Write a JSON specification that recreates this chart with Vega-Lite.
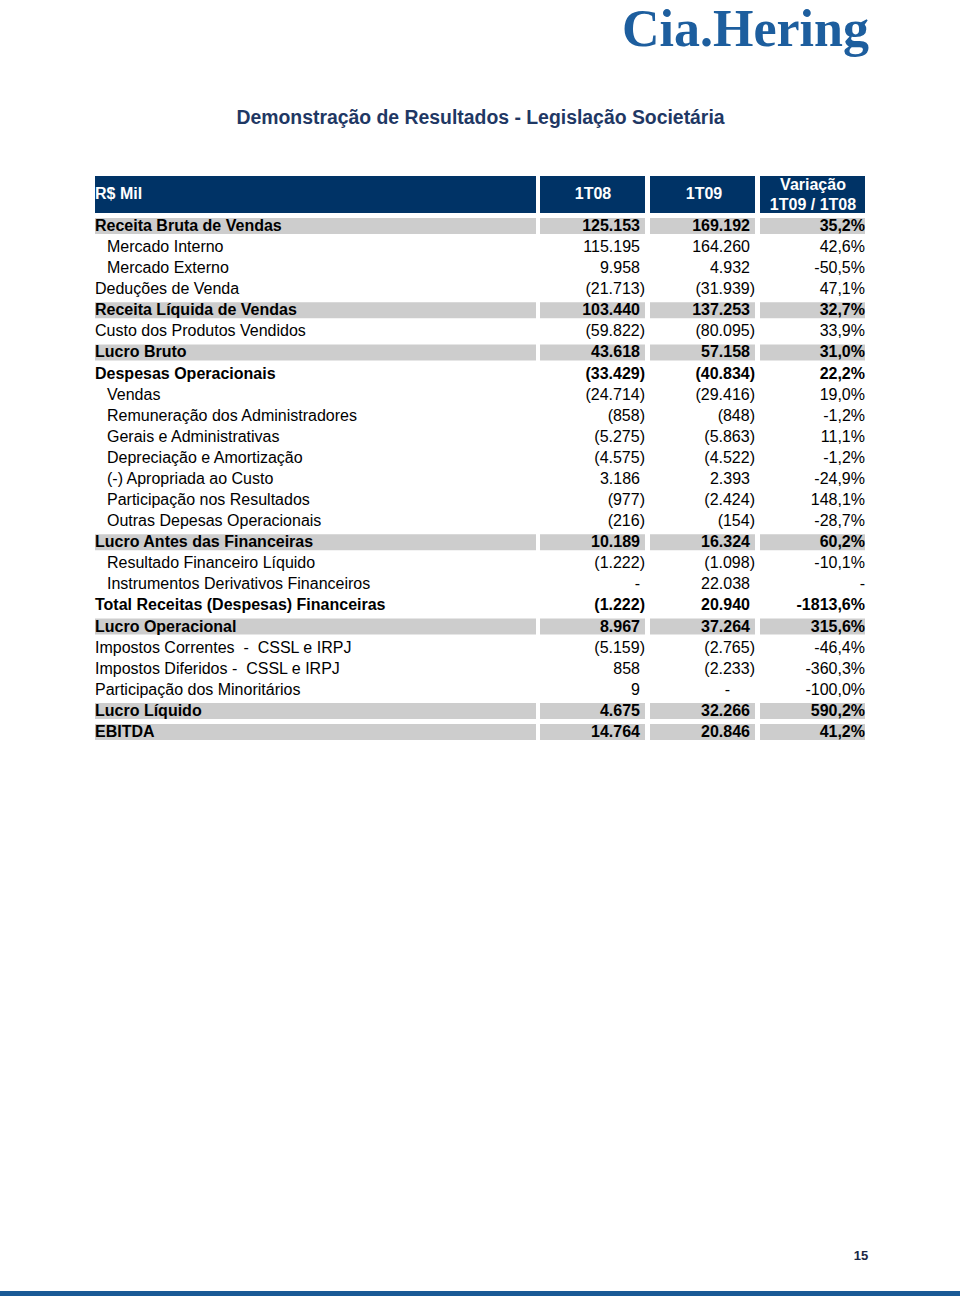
{
  "$schema": "https://vega.github.io/schema/vega-lite/v6.json",
  "autosize": {"type": "none"},
  "width": 960,
  "height": 1296,
  "padding": 0,
  "background": "#ffffff",
  "config": {
    "view": {"stroke": null},
    "axis": {"disable": true},
    "locale": {"number": {"decimal": ",", "thousands": ".", "grouping": [3], "currency": ["R$", ""], "minus": "-"}}
  },
  "data": {"values": [
    {"row": 1, "label": "Receita Bruta de Vendas", "kind": "total", "a": 125153, "b": 169192, "c": 0.352},
    {"row": 2, "label": "Mercado Interno", "kind": "sub", "a": 115195, "b": 164260, "c": 0.426},
    {"row": 3, "label": "Mercado Externo", "kind": "sub", "a": 9958, "b": 4932, "c": -0.505},
    {"row": 4, "label": "Deduções de Venda", "kind": "item", "a": -21713, "b": -31939, "c": 0.471},
    {"row": 5, "label": "Receita Líquida de Vendas", "kind": "total", "a": 103440, "b": 137253, "c": 0.327},
    {"row": 6, "label": "Custo dos Produtos Vendidos", "kind": "item", "a": -59822, "b": -80095, "c": 0.339},
    {"row": 7, "label": "Lucro Bruto", "kind": "total", "a": 43618, "b": 57158, "c": 0.310},
    {"row": 8, "label": "Despesas Operacionais", "kind": "head", "a": -33429, "b": -40834, "c": 0.222},
    {"row": 9, "label": "Vendas", "kind": "sub", "a": -24714, "b": -29416, "c": 0.190},
    {"row": 10, "label": "Remuneração dos Administradores", "kind": "sub", "a": -858, "b": -848, "c": -0.012},
    {"row": 11, "label": "Gerais e Administrativas", "kind": "sub", "a": -5275, "b": -5863, "c": 0.111},
    {"row": 12, "label": "Depreciação e Amortização", "kind": "sub", "a": -4575, "b": -4522, "c": -0.012},
    {"row": 13, "label": "(-) Apropriada ao Custo", "kind": "sub", "a": 3186, "b": 2393, "c": -0.249},
    {"row": 14, "label": "Participação nos Resultados", "kind": "sub", "a": -977, "b": -2424, "c": 1.481},
    {"row": 15, "label": "Outras Depesas Operacionais", "kind": "sub", "a": -216, "b": -154, "c": -0.287},
    {"row": 16, "label": "Lucro Antes das Financeiras", "kind": "total", "a": 10189, "b": 16324, "c": 0.602},
    {"row": 17, "label": "Resultado Financeiro Líquido", "kind": "sub", "a": -1222, "b": -1098, "c": -0.101},
    {"row": 18, "label": "Instrumentos Derivativos Financeiros", "kind": "sub", "a": null, "b": 22038, "c": null},
    {"row": 19, "label": "Total Receitas (Despesas) Financeiras", "kind": "head", "a": -1222, "b": 20940, "c": -18.136},
    {"row": 20, "label": "Lucro Operacional", "kind": "total", "a": 8967, "b": 37264, "c": 3.156},
    {"row": 21, "label": "Impostos Correntes \u00a0-\u00a0 CSSL e IRPJ", "kind": "item", "a": -5159, "b": -2765, "c": -0.464},
    {"row": 22, "label": "Impostos Diferidos -\u00a0 CSSL e IRPJ", "kind": "item", "a": 858, "b": -2233, "c": -3.603},
    {"row": 23, "label": "Participação dos Minoritários", "kind": "item", "a": 9, "b": null, "c": -1.0},
    {"row": 24, "label": "Lucro Líquido", "kind": "total", "a": 4675, "b": 32266, "c": 5.902},
    {"row": 25, "label": "EBITDA", "kind": "total", "a": 14764, "b": 20846, "c": 0.412}
  ]},
  "layer": [
    {"data": {"values": [{}]}, "mark": {"type": "rule", "strokeWidth": 37, "color": "#003366"},
     "encoding": {"x": {"datum": 95, "type": "quantitative", "scale": {"domain": [0, 960], "nice": false, "zero": false}}, "x2": {"datum": 536},
                  "y": {"datum": -0.494, "type": "quantitative", "scale": {"domain": [-9.7195, 51.7515], "reverse": true, "nice": false, "zero": false}}}},
    {"data": {"values": [{}]}, "mark": {"type": "rule", "strokeWidth": 37, "color": "#003366"},
     "encoding": {"x": {"datum": 540, "type": "quantitative", "scale": {"domain": [0, 960], "nice": false, "zero": false}}, "x2": {"datum": 645},
                  "y": {"datum": -0.494, "type": "quantitative", "scale": {"domain": [-9.7195, 51.7515], "reverse": true, "nice": false, "zero": false}}}},
    {"data": {"values": [{}]}, "mark": {"type": "rule", "strokeWidth": 37, "color": "#003366"},
     "encoding": {"x": {"datum": 650, "type": "quantitative", "scale": {"domain": [0, 960], "nice": false, "zero": false}}, "x2": {"datum": 755},
                  "y": {"datum": -0.494, "type": "quantitative", "scale": {"domain": [-9.7195, 51.7515], "reverse": true, "nice": false, "zero": false}}}},
    {"data": {"values": [{}]}, "mark": {"type": "rule", "strokeWidth": 37, "color": "#003366"},
     "encoding": {"x": {"datum": 760, "type": "quantitative", "scale": {"domain": [0, 960], "nice": false, "zero": false}}, "x2": {"datum": 865},
                  "y": {"datum": -0.494, "type": "quantitative", "scale": {"domain": [-9.7195, 51.7515], "reverse": true, "nice": false, "zero": false}}}},

    {"transform": [{"filter": "datum.kind === 'total'"}], "mark": {"type": "rule", "strokeWidth": 16, "color": "#cdcdcd"},
     "encoding": {"x": {"datum": 95, "type": "quantitative", "scale": {"domain": [0, 960], "nice": false, "zero": false}}, "x2": {"datum": 536},
                  "y": {"field": "row", "type": "quantitative", "scale": {"domain": [-9.7195, 51.7515], "reverse": true, "nice": false, "zero": false}}}},
    {"transform": [{"filter": "datum.kind === 'total'"}], "mark": {"type": "rule", "strokeWidth": 16, "color": "#cdcdcd"},
     "encoding": {"x": {"datum": 540, "type": "quantitative", "scale": {"domain": [0, 960], "nice": false, "zero": false}}, "x2": {"datum": 645},
                  "y": {"field": "row", "type": "quantitative", "scale": {"domain": [-9.7195, 51.7515], "reverse": true, "nice": false, "zero": false}}}},
    {"transform": [{"filter": "datum.kind === 'total'"}], "mark": {"type": "rule", "strokeWidth": 16, "color": "#cdcdcd"},
     "encoding": {"x": {"datum": 650, "type": "quantitative", "scale": {"domain": [0, 960], "nice": false, "zero": false}}, "x2": {"datum": 755},
                  "y": {"field": "row", "type": "quantitative", "scale": {"domain": [-9.7195, 51.7515], "reverse": true, "nice": false, "zero": false}}}},
    {"transform": [{"filter": "datum.kind === 'total'"}], "mark": {"type": "rule", "strokeWidth": 16, "color": "#cdcdcd"},
     "encoding": {"x": {"datum": 760, "type": "quantitative", "scale": {"domain": [0, 960], "nice": false, "zero": false}}, "x2": {"datum": 865},
                  "y": {"field": "row", "type": "quantitative", "scale": {"domain": [-9.7195, 51.7515], "reverse": true, "nice": false, "zero": false}}}},

    {"data": {"values": [{"t": "R$ Mil"}]}, "mark": {"type": "text", "align": "left", "baseline": "middle", "font": "Liberation Sans", "fontSize": 16, "fontWeight": "bold", "color": "#ffffff"},
     "encoding": {"x": {"datum": 95, "type": "quantitative", "scale": {"domain": [0, 960], "nice": false, "zero": false}},
                  "y": {"datum": -0.518, "type": "quantitative", "scale": {"domain": [-9.7195, 51.7515], "reverse": true, "nice": false, "zero": false}}, "text": {"field": "t"}}},
    {"data": {"values": [{"t": "1T08"}]}, "mark": {"type": "text", "align": "center", "baseline": "middle", "font": "Liberation Sans", "fontSize": 16, "fontWeight": "bold", "color": "#ffffff"},
     "encoding": {"x": {"datum": 593, "type": "quantitative", "scale": {"domain": [0, 960], "nice": false, "zero": false}},
                  "y": {"datum": -0.518, "type": "quantitative", "scale": {"domain": [-9.7195, 51.7515], "reverse": true, "nice": false, "zero": false}}, "text": {"field": "t"}}},
    {"data": {"values": [{"t": "1T09"}]}, "mark": {"type": "text", "align": "center", "baseline": "middle", "font": "Liberation Sans", "fontSize": 16, "fontWeight": "bold", "color": "#ffffff"},
     "encoding": {"x": {"datum": 704, "type": "quantitative", "scale": {"domain": [0, 960], "nice": false, "zero": false}},
                  "y": {"datum": -0.518, "type": "quantitative", "scale": {"domain": [-9.7195, 51.7515], "reverse": true, "nice": false, "zero": false}}, "text": {"field": "t"}}},
    {"data": {"values": [{"t": "Variação"}]}, "mark": {"type": "text", "align": "center", "baseline": "middle", "font": "Liberation Sans", "fontSize": 16, "fontWeight": "bold", "color": "#ffffff"},
     "encoding": {"x": {"datum": 813, "type": "quantitative", "scale": {"domain": [0, 960], "nice": false, "zero": false}},
                  "y": {"datum": -0.945, "type": "quantitative", "scale": {"domain": [-9.7195, 51.7515], "reverse": true, "nice": false, "zero": false}}, "text": {"field": "t"}}},
    {"data": {"values": [{"t": "1T09 / 1T08"}]}, "mark": {"type": "text", "align": "center", "baseline": "middle", "font": "Liberation Sans", "fontSize": 16, "fontWeight": "bold", "color": "#ffffff"},
     "encoding": {"x": {"datum": 813, "type": "quantitative", "scale": {"domain": [0, 960], "nice": false, "zero": false}},
                  "y": {"datum": 0.004, "type": "quantitative", "scale": {"domain": [-9.7195, 51.7515], "reverse": true, "nice": false, "zero": false}}, "text": {"field": "t"}}},

    {"mark": {"type": "text", "align": "left", "baseline": "middle", "font": "Liberation Sans", "fontSize": 16, "color": "#000000",
              "fontWeight": {"expr": "datum.kind === 'total' || datum.kind === 'head' ? 'bold' : 'normal'"},
              "dx": {"expr": "datum.kind === 'sub' ? 12 : 0"}},
     "encoding": {"x": {"datum": 95, "type": "quantitative", "scale": {"domain": [0, 960], "nice": false, "zero": false}},
                  "y": {"field": "row", "type": "quantitative", "scale": {"domain": [-9.7195, 51.7515], "reverse": true, "nice": false, "zero": false}},
                  "text": {"field": "label"}}},
    {"mark": {"type": "text", "align": "right", "baseline": "middle", "font": "Liberation Sans", "fontSize": 16, "color": "#000000",
              "fontWeight": {"expr": "datum.kind === 'total' || datum.kind === 'head' ? 'bold' : 'normal'"},
              "dx": {"expr": "datum.a !== null && datum.a < 0 ? 0 : -5"}},
     "encoding": {"x": {"datum": 645, "type": "quantitative", "scale": {"domain": [0, 960], "nice": false, "zero": false}},
                  "y": {"field": "row", "type": "quantitative", "scale": {"domain": [-9.7195, 51.7515], "reverse": true, "nice": false, "zero": false}},
                  "text": {"condition": {"test": "datum.a === null", "value": "-"}, "field": "a", "type": "quantitative", "format": "(,.0f"}}},
    {"mark": {"type": "text", "align": "right", "baseline": "middle", "font": "Liberation Sans", "fontSize": 16, "color": "#000000",
              "fontWeight": {"expr": "datum.kind === 'total' || datum.kind === 'head' ? 'bold' : 'normal'"},
              "dx": {"expr": "datum.b === null ? -25 : (datum.b < 0 ? 0 : -5)"}},
     "encoding": {"x": {"datum": 755, "type": "quantitative", "scale": {"domain": [0, 960], "nice": false, "zero": false}},
                  "y": {"field": "row", "type": "quantitative", "scale": {"domain": [-9.7195, 51.7515], "reverse": true, "nice": false, "zero": false}},
                  "text": {"condition": {"test": "datum.b === null", "value": "-"}, "field": "b", "type": "quantitative", "format": "(,.0f"}}},
    {"mark": {"type": "text", "align": "right", "baseline": "middle", "font": "Liberation Sans", "fontSize": 16, "color": "#000000",
              "fontWeight": {"expr": "datum.kind === 'total' || datum.kind === 'head' ? 'bold' : 'normal'"}},
     "encoding": {"x": {"datum": 865, "type": "quantitative", "scale": {"domain": [0, 960], "nice": false, "zero": false}},
                  "y": {"field": "row", "type": "quantitative", "scale": {"domain": [-9.7195, 51.7515], "reverse": true, "nice": false, "zero": false}},
                  "text": {"condition": {"test": "datum.c === null", "value": "-"}, "field": "c", "type": "quantitative", "format": ".1%"}}},

    {"data": {"values": [{"t": "Cia.Hering"}]}, "mark": {"type": "text", "align": "left", "baseline": "alphabetic", "font": "Liberation Serif", "fontSize": 52, "fontWeight": "bold", "color": "#1d5e9e"},
     "encoding": {"x": {"datum": 622, "type": "quantitative", "scale": {"domain": [0, 960], "nice": false, "zero": false}},
                  "y": {"datum": -7.538, "type": "quantitative", "scale": {"domain": [-9.7195, 51.7515], "reverse": true, "nice": false, "zero": false}}, "text": {"field": "t"}}},
    {"data": {"values": [{"t": "Demonstração de Resultados - Legislação Societária"}]}, "mark": {"type": "text", "align": "center", "baseline": "middle", "font": "Liberation Sans", "fontSize": 19.4, "fontWeight": "bold", "color": "#1f3864"},
     "encoding": {"x": {"datum": 480.5, "type": "quantitative", "scale": {"domain": [0, 960], "nice": false, "zero": false}},
                  "y": {"datum": -4.123, "type": "quantitative", "scale": {"domain": [-9.7195, 51.7515], "reverse": true, "nice": false, "zero": false}}, "text": {"field": "t"}}},
    {"data": {"values": [{"t": "15"}]}, "mark": {"type": "text", "align": "center", "baseline": "middle", "font": "Liberation Sans", "fontSize": 13, "fontWeight": "bold", "color": "#1a2744"},
     "encoding": {"x": {"datum": 861, "type": "quantitative", "scale": {"domain": [0, 960], "nice": false, "zero": false}},
                  "y": {"datum": 49.854, "type": "quantitative", "scale": {"domain": [-9.7195, 51.7515], "reverse": true, "nice": false, "zero": false}}, "text": {"field": "t"}}},
    {"data": {"values": [{}]}, "mark": {"type": "rule", "strokeWidth": 5, "color": "#1a5a96"},
     "encoding": {"x": {"datum": 0, "type": "quantitative", "scale": {"domain": [0, 960], "nice": false, "zero": false}}, "x2": {"datum": 960},
                  "y": {"datum": 51.633, "type": "quantitative", "scale": {"domain": [-9.7195, 51.7515], "reverse": true, "nice": false, "zero": false}}}}
  ]
}
